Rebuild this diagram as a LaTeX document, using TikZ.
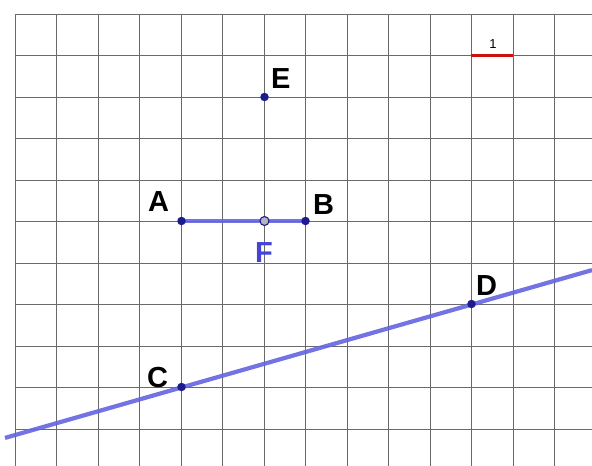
\documentclass[tikz,border=0pt]{standalone}
\usepackage{fontspec}
\setmainfont{Liberation Sans}
\definecolor{gridgray}{HTML}{6A6A6A}
\definecolor{lineblue}{HTML}{6464E0}
\definecolor{ptblue}{HTML}{1C1C8C}
\definecolor{flabel}{HTML}{4444D8}
\definecolor{scalered}{HTML}{CC1010}
\tikzset{
  gridline/.style={draw=gridgray, line width=1pt},
  geoline/.style={draw=lineblue, line width=4.2pt, opacity=0.9},
  ptdot/.style={circle, fill=ptblue, minimum size=8.5pt, inner sep=0pt},
  ptopen/.style={circle, draw=ptblue, fill=ptblue!25!gray!50, line width=1.1pt, minimum size=9pt, inner sep=0pt},
  ptlabel/.style={anchor=base west, inner sep=0pt, font=\bfseries\fontsize{29}{29}\selectfont},
}
\begin{document}
\begin{tikzpicture}[x=1pt,y=-1pt]
\useasboundingbox (0,0) rectangle (592,466);
\fill[white] (0,0) rectangle (592,466);
% grid
\foreach \k in {0,...,13} {
  \draw[gridline] ({15+41.5*\k},14) -- ({15+41.5*\k},466);
}
\foreach \k in {0,...,10} {
  \draw[gridline] (15,{14+41.5*\k}) -- (592,{14+41.5*\k});
}
% scale bar
\coordinate (s1) at (470.5,55.5);
\coordinate (s2) at (513,55.5);
\draw[draw=scalered, line width=2.2pt] (s1) -- (s2);
\node[anchor=base, inner sep=0pt, font=\fontsize{13}{13}\selectfont] (one) at (493,48) {1};
% points
\coordinate (Ep) at (264.5,97);
\coordinate (Ap) at (181.5,221);
\coordinate (Bp) at (305.5,221);
\coordinate (Fp) at (264.5,221);
\coordinate (Cp) at (181.5,387);
\coordinate (Dp) at (471.5,304);
\coordinate (L) at (5,437.9);
\coordinate (R) at (592,270.1);
% lines
\draw[geoline] (L) -- (R);
\draw[geoline] (Ap) -- (Bp);
% dots
\node[ptdot] (E) at (Ep) {};
\node[ptdot] (A) at (Ap) {};
\node[ptdot] (B) at (Bp) {};
\node[ptdot] (C) at (Cp) {};
\node[ptdot] (D) at (Dp) {};
\node[ptopen] (F) at (Fp) {};
% labels
\node[ptlabel] (lE) at (271,88) {E};
\node[ptlabel] (lA) at (148,211) {A};
\node[ptlabel] (lB) at (313,214) {B};
\node[ptlabel, text=flabel] (lF) at (255,262) {F};
\node[ptlabel] (lC) at (147,387) {C};
\node[ptlabel] (lD) at (476,295) {D};
\end{tikzpicture}
\end{document}
